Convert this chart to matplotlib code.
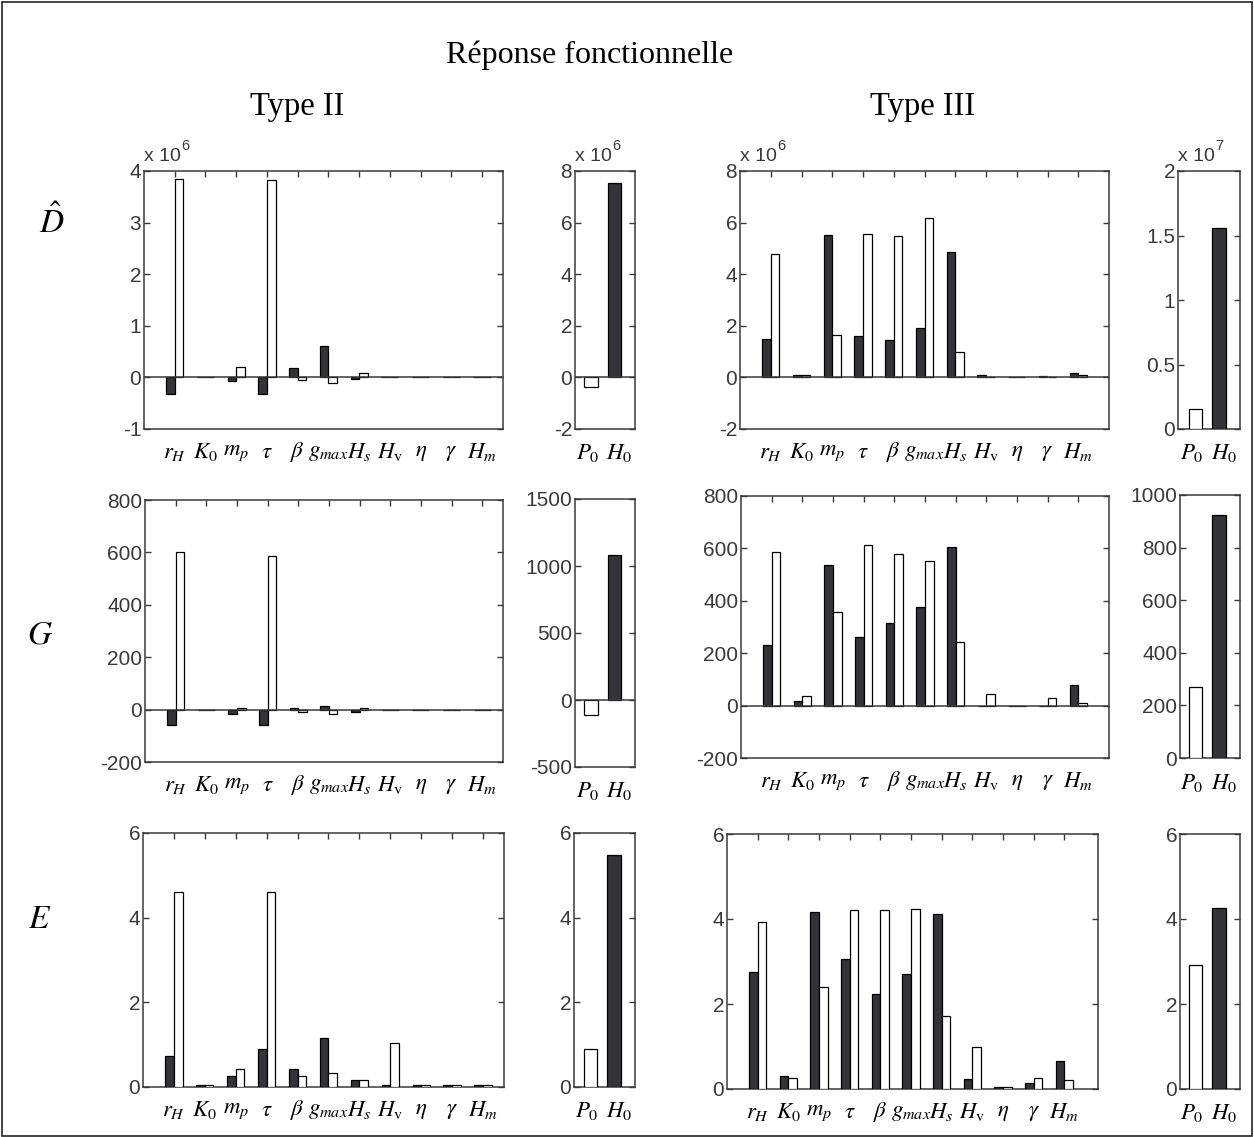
import numpy as np
import matplotlib
matplotlib.use('Agg')
import matplotlib.pyplot as plt
from matplotlib.patches import Rectangle
from matplotlib.transforms import ScaledTranslation

plt.rcParams['font.family'] = 'Liberation Sans'
plt.rcParams['mathtext.fontset'] = 'stix'
plt.rcParams['axes.unicode_minus'] = False

W, H = 1254, 1137
dark = '#333338'
grey = '#3a3a3a'

# parameter names (main panels) and initial conditions (small panels)
params = [r'$r_H$', r'$K_0$', r'$m_p$', r'$\tau$', r'$\beta$', r'$g_{max}$',
          r'$H_s$', r'$H_\mathrm{v}$', r'$\eta$', r'$\gamma$', r'$H_m$']
inits = [r'$P_0$', r'$H_0$']

# D hat, type II  (x 10^6)
d2_black = [-0.32, 0, -0.07, -0.32, 0.19, 0.61, -0.03, 0, 0, 0, 0]
d2_white = [3.85, 0, 0.21, 3.82, -0.06, -0.11, 0.08, 0, 0, 0, 0]
d2_init = [-0.36, 7.55]          # P0 (white), H0 (black)
# D hat, type III  (x 10^6 / x 10^7)
d3_black = [1.50, 0.08, 5.50, 1.62, 1.44, 1.92, 4.87, 0.08, 0, 0.07, 0.16]
d3_white = [4.79, 0.08, 1.63, 5.55, 5.49, 6.19, 1.00, 0, 0, 0, 0.08]
d3_init = [0.155, 1.557]

# G, type II
g2_black = [-57, 0, -17, -57, 8, 15, -9, 0, 0, 0, 0]
g2_white = [600, 0, 8, 586, -9, -15, 8, 0, 0, 0, 0]
g2_init = [-112, 1084]
# G, type III
g3_black = [232, 16, 536, 260, 316, 377, 606, 0, 0, 0, 79]
g3_white = [585, 37, 356, 612, 578, 551, 244, 43, 0, 29, 9]
g3_init = [270, 925]

# E, type II
e2_black = [0.73, 0.05, 0.26, 0.90, 0.43, 1.16, 0.17, 0.04, 0.05, 0.05, 0.05]
e2_white = [4.60, 0.04, 0.43, 4.60, 0.26, 0.34, 0.17, 1.03, 0.04, 0.04, 0.04]
e2_init = [0.89, 5.47]
# E, type III
e3_black = [2.76, 0.31, 4.16, 3.05, 2.24, 2.71, 4.12, 0.23, 0.05, 0.14, 0.65]
e3_white = [3.94, 0.27, 2.40, 4.21, 4.21, 4.24, 1.71, 0.99, 0.05, 0.27, 0.22]
e3_init = [2.91, 4.27]

fig = plt.figure(figsize=(W / 100, H / 100), dpi=100)


def px(l, r, t, b):
    return [l / W, 1 - b / H, (r - l) / W, (b - t) / H]


def style(ax, ylim, yticks, ylabels):
    ax.set_ylim(*ylim)
    ax.set_yticks(yticks)
    ax.set_yticklabels(ylabels, fontsize=15, color=grey)
    ax.tick_params(axis='y', direction='in', left=True, right=True, length=4,
                   width=1, color=grey, pad=2)
    for s in ax.spines.values():
        s.set_color(grey)
        s.set_linewidth(1.1)
    if ylim[0] < 0:
        ax.axhline(0, color=grey, lw=1.1, zorder=4)


def scale_text(ax, exp):
    t = ax.text(0.0, 1.025, 'x 10', transform=ax.transAxes, fontsize=14,
                color=grey, ha='left', va='bottom')
    ax.annotate(exp, xy=(1.0, 0.7), xycoords=t, fontsize=10.5, color=grey,
                ha='left', va='bottom')


def main_panel(box, black, white, ylim, yticks, ylabels, xmax, exp=None):
    ax = fig.add_axes(px(*box))
    x = np.arange(1, len(params) + 1)
    ax.bar(x - 0.14, black, 0.28, color=dark, edgecolor='black', lw=0.9, zorder=3)
    ax.bar(x + 0.14, white, 0.28, color='white', edgecolor='black', lw=0.9, zorder=3)
    ax.set_xlim(0, xmax)
    ax.set_xticks(x)
    labels = ax.set_xticklabels(params, fontsize=16.5)
    # g_max sits a touch left of its tick
    labels[5].set_transform(labels[5].get_transform() +
                            ScaledTranslation(-3 / 72, 0, fig.dpi_scale_trans))
    ax.tick_params(axis='x', direction='in', top=True, bottom=False, length=4,
                   width=1, color=grey, pad=8)
    style(ax, ylim, yticks, ylabels)
    if exp:
        scale_text(ax, exp)
    return ax


def init_panel(box, vals, ylim, yticks, ylabels, xmin, exp=None):
    ax = fig.add_axes(px(*box))
    ax.bar([1], [vals[0]], 0.58, color='white', edgecolor='black', lw=0.9, zorder=3)
    ax.bar([2], [vals[1]], 0.58, color=dark, edgecolor='black', lw=0.9, zorder=3)
    ax.set_xlim(xmin, 2.9)
    # labels only (no visible ticks): P0 ends and H0 starts near the middle
    ax.set_xticks([1.36, 1.66])
    labels = ax.set_xticklabels(inits, fontsize=16.5)
    labels[0].set_ha('right')
    labels[1].set_ha('left')
    ax.tick_params(axis='x', length=0, pad=9)
    style(ax, ylim, yticks, ylabels)
    if exp:
        scale_text(ax, exp)
    return ax


def labs(ticks):
    return ['%g' % v for v in ticks]


# row 1 : D hat
t = [-1, 0, 1, 2, 3, 4]
main_panel((144, 503, 171, 429), d2_black, d2_white, (-1, 4), t, labs(t), 11.68, '6')
t = [-2, 0, 2, 4, 6, 8]
init_panel((575, 635, 171, 429), d2_init, (-2, 8), t, labs(t), 0.3, '6')
main_panel((740, 1109, 171, 429), d3_black, d3_white, (-2, 8), t, labs(t), 12, '6')
t = [0, 0.5, 1, 1.5, 2]
init_panel((1178, 1240, 171, 429), d3_init, (0, 2), t, labs(t), 0.25, '7')

# row 2 : G
t = [-200, 0, 200, 400, 600, 800]
main_panel((145, 503, 500, 762), g2_black, g2_white, (-200, 800), t, labs(t), 11.68)
t2 = [-500, 0, 500, 1000, 1500]
init_panel((575, 635, 499, 767), g2_init, (-500, 1500), t2, labs(t2), 0.3)
main_panel((741, 1109, 496, 758), g3_black, g3_white, (-200, 800), t, labs(t), 12)
t3 = [0, 200, 400, 600, 800, 1000]
init_panel((1180, 1240, 495, 758), g3_init, (0, 1000), t3, labs(t3), 0.33)

# row 3 : E
t = [0, 2, 4, 6]
main_panel((143, 504, 833, 1087), e2_black, e2_white, (0, 6), t, labs(t), 11.68)
init_panel((574, 635, 833, 1087), e2_init, (0, 6), t, labs(t), 0.3)
main_panel((727, 1098, 834, 1089), e3_black, e3_white, (0, 6), t, labs(t), 12.1)
init_panel((1180, 1240, 834, 1089), e3_init, (0, 6), t, labs(t), 0.33)

# titles and row labels
serif = 'Liberation Serif'
fig.text(590 / W, 1 - 55 / H, 'Réponse fonctionnelle', family=serif, fontsize=23,
         ha='center', va='center')
fig.text(297 / W, 1 - 107 / H, 'Type II', family=serif, fontsize=23.5,
         ha='center', va='center')
fig.text(923 / W, 1 - 107 / H, 'Type III', family=serif, fontsize=23.5,
         ha='center', va='center')
fig.text(52 / W, 1 - 222 / H, r'$\hat{D}$', fontsize=24, ha='center', va='center')
fig.text(40 / W, 1 - 635 / H, r'$G$', fontsize=24, ha='center', va='center')
fig.text(40 / W, 1 - 920 / H, r'$E$', fontsize=24, ha='center', va='center')

# frame round the whole figure
fig.patches.append(Rectangle((0.0016, 0.0009), 0.9968, 0.9973, transform=fig.transFigure,
                             fill=False, lw=1.2, ec='#222222'))

fig.savefig('out.png', dpi=100)
